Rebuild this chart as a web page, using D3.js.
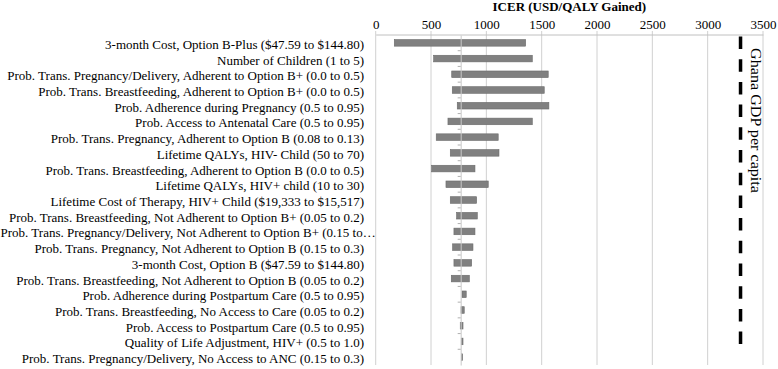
<!DOCTYPE html>
<html>
<head>
<meta charset="utf-8">
<script src="https://cdn.jsdelivr.net/npm/d3@7"></script>
<style>
  body { margin: 0; background: #fff; }
  text { font-family: "Liberation Serif", "Times New Roman", serif; fill: #000; }
</style>
</head>
<body>
<div id="chart" style="width:778px;height:369px;"></div>
<script>
const PARAMS = [
  '3-month Cost, Option B-Plus ($47.59 to $144.80)',
  'Number of Children (1 to 5)',
  'Prob. Trans. Pregnancy/Delivery, Adherent to Option B+ (0.0 to 0.5)',
  'Prob. Trans.  Breastfeeding, Adherent to Option B+ (0.0 to 0.5)',
  'Prob. Adherence during Pregnancy (0.5 to 0.95)',
  'Prob. Access to Antenatal Care (0.5 to 0.95)',
  'Prob. Trans. Pregnancy, Adherent to Option B (0.08 to 0.13)',
  'Lifetime QALYs, HIV- Child (50 to 70)',
  'Prob. Trans. Breastfeeding, Adherent to Option B (0.0 to 0.5)',
  'Lifetime QALYs, HIV+ child (10 to 30)',
  'Lifetime Cost of Therapy, HIV+ Child ($19,333 to $15,517)',
  'Prob. Trans. Breastfeeding, Not Adherent to Option B+ (0.05 to 0.2)',
  'Prob. Trans. Pregnancy/Delivery, Not Adherent to Option B+ (0.15 to\u2026',
  'Prob. Trans. Pregnancy, Not Adherent to Option B (0.15 to 0.3)',
  '3-month Cost, Option B ($47.59 to $144.80)',
  'Prob. Trans. Breastfeeding, Not Adherent to Option B (0.05 to 0.2)',
  'Prob. Adherence during Postpartum Care (0.5 to 0.95)',
  'Prob. Trans. Breastfeeding, No Access to Care (0.05 to 0.2)',
  'Prob. Access to Postpartum Care (0.5 to 0.95)',
  'Quality of Life Adjustment, HIV+ (0.5 to 1.0)',
  'Prob. Trans. Pregnancy/Delivery, No Access to ANC (0.15 to 0.3)'
];
const LOW = [168, 524, 687, 692, 737, 653, 547, 674, 506, 635, 674, 731, 707, 695, 707, 683, 780, 771, 764, 773, 776];
const HIGH = [1355, 1415, 1559, 1523, 1565, 1415, 1107, 1114, 897, 1017, 912, 918, 897, 879, 867, 846, 818, 800, 789, 789, 785];
const TICKS = [0, 500, 1000, 1500, 2000, 2500, 3000, 3500];
const BASE_ICER = 768;
const GDP_LINE = 3297;

const DATA = PARAMS.map((p, i) => ({ param: p, low: LOW[i], high: HIGH[i] }));

const container = document.getElementById("chart");
const width = 778;
const height = 369;

const svg = d3.select(container)
  .append("svg")
  .attr("width", width)
  .attr("height", height);

const xScale = d3.scaleLinear()
  .domain([0, 3500])
  .range([375.7, 763]);
const yScale = d3.scaleBand()
  .domain(PARAMS)
  .range([35, 365])
  .paddingInner(0.58)
  .paddingOuter(0.29);

// gridlines
svg.append("g")
  .selectAll("line")
  .data(TICKS)
  .enter()
  .append("line")
  .attr("x1", d => xScale(d))
  .attr("x2", d => xScale(d))
  .attr("y1", 31)
  .attr("y2", 365)
  .attr("stroke", "#d0d0d0")
  .attr("stroke-width", 1);

// top axis
const xAxis = svg.append("g")
  .attr("transform", "translate(0,34.5)")
  .call(d3.axisTop(xScale).tickValues(TICKS).tickFormat(d3.format("d")).tickSize(0).tickPadding(6));
xAxis.select(".domain").attr("stroke", "#c0c0c0");
xAxis.selectAll("text")
  .style("font-family", "'Liberation Serif', serif")
  .style("font-size", "13px")
  .attr("fill", "#000");

svg.append("text")
  .attr("x", xScale(1750))
  .attr("y", 11)
  .attr("text-anchor", "middle")
  .style("font-size", "13px")
  .style("font-weight", "bold")
  .text("ICER (USD/QALY Gained)");

// bars
svg.selectAll(".bar")
  .data(DATA)
  .enter()
  .append("rect")
  .classed("bar", true)
  .attr("x", d => xScale(d.low))
  .attr("width", d => Math.max(1, xScale(d.high) - xScale(d.low)))
  .attr("y", d => yScale(d.param))
  .attr("height", yScale.bandwidth())
  .attr("fill", "#808080")
  .attr("stroke", "#6a6a6a")
  .attr("stroke-width", 0.6);

// category axis through base case
const yAxis = svg.append("g")
  .attr("transform", `translate(${xScale(BASE_ICER)},0)`)
  .call(d3.axisLeft(yScale).tickSize(0).tickFormat(""));
yAxis.select(".domain").attr("stroke", "#c8c8c8");
yAxis.selectAll(".sep")
  .data(PARAMS.slice(1))
  .enter()
  .append("line")
  .attr("x1", -3)
  .attr("x2", 0)
  .attr("y1", d => yScale(d) - yScale.step() * yScale.paddingInner() / 2)
  .attr("y2", d => yScale(d) - yScale.step() * yScale.paddingInner() / 2)
  .attr("stroke", "#b0b0b0");

// labels (the truncated one overflows to the right, starting at the left edge)
svg.append("g")
  .selectAll("text")
  .data(DATA)
  .enter()
  .append("text")
  .attr("x", d => d.param.endsWith("\u2026") ? 0.5 : 364)
  .attr("y", d => yScale(d.param) + yScale.bandwidth() / 2 + 1.5)
  .attr("text-anchor", d => d.param.endsWith("\u2026") ? "start" : "end")
  .attr("dominant-baseline", "central")
  .style("font-size", "13px")
  .text(d => d.param);

// GDP per capita line
svg.append("line")
  .attr("x1", xScale(GDP_LINE))
  .attr("x2", xScale(GDP_LINE))
  .attr("y1", 36.5)
  .attr("y2", 354)
  .attr("stroke", "#000")
  .attr("stroke-width", 3.5)
  .attr("stroke-dasharray", "12.5 10.2");

svg.append("text")
  .attr("transform", `translate(755.5,48) rotate(90)`)
  .attr("dominant-baseline", "central")
  .attr("textLength", 145)
  .attr("lengthAdjust", "spacingAndGlyphs")
  .style("font-size", "15px")
  .text("Ghana GDP per capita");
</script>
</body>
</html>
